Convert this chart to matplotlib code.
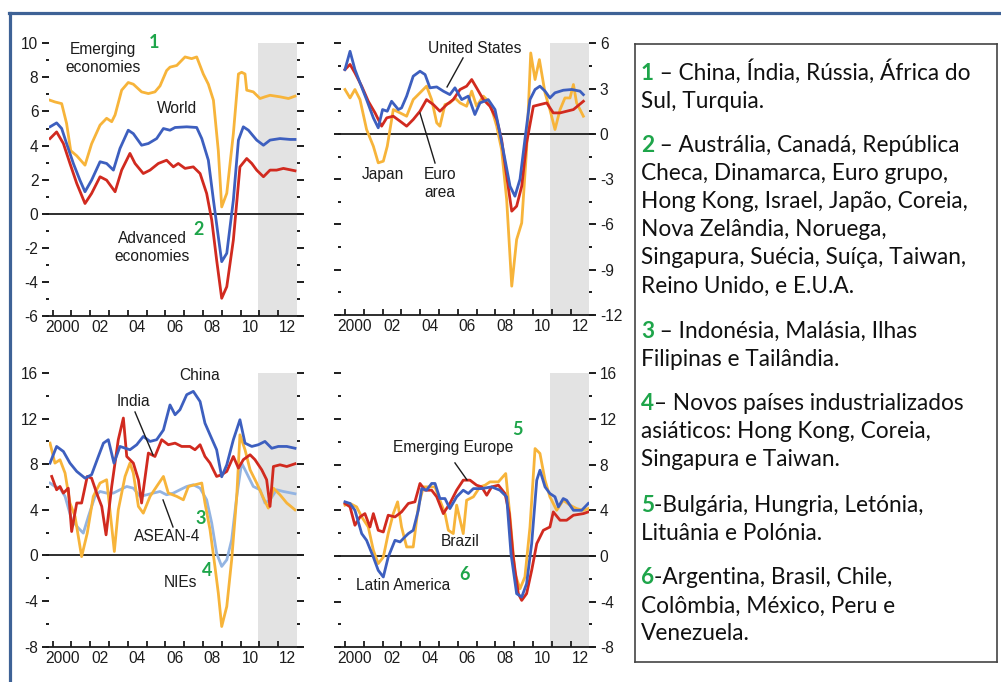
import matplotlib
matplotlib.use("Agg")
import matplotlib.pyplot as plt
from matplotlib.ticker import FixedLocator, FixedFormatter, NullFormatter
from matplotlib.transforms import Affine2D
from matplotlib.lines import Line2D
import numpy as np

plt.rcParams['axes.unicode_minus'] = False

# ---------------- data: real GDP growth, percent change from a year earlier ----------------
# Panel 1: global aggregates
emerging_t = [1999.86, 2000.12, 2000.48, 2000.74, 2000.96, 2001.28, 2001.72, 2002.07, 2002.52, 2002.87,
              2003.14, 2003.32, 2003.67, 2004.02, 2004.29, 2004.73, 2005.09, 2005.44, 2005.71, 2006.06,
              2006.24, 2006.60, 2007.04, 2007.39, 2007.66, 2008.01, 2008.28, 2008.55, 2008.81, 2008.99,
              2009.26, 2009.61, 2009.88, 2010.05, 2010.23, 2010.32, 2010.67, 2011.03, 2011.29, 2011.56,
              2012.09, 2012.54, 2012.89]
emerging_v = [6.66, 6.56, 6.46, 5.3, 3.7, 3.4, 2.85, 4.1, 5.2, 5.6,
              5.4, 5.8, 7.25, 7.7, 7.6, 7.15, 7.05, 7.15, 7.5, 8.4,
              8.6, 8.7, 9.2, 9.1, 9.2, 8.2, 7.6, 6.66, 3.7, 0.4,
              1.2, 4.7, 8.2, 8.3, 8.2, 7.25, 7.15, 6.76, 6.86, 6.95,
              6.86, 6.76, 6.9]

world_t = [1999.86, 2000.21, 2000.48, 2000.74, 2001.10, 2001.45, 2001.72, 2002.07, 2002.52, 2002.87,
           2003.23, 2003.58, 2004.02, 2004.29, 2004.73, 2005.09, 2005.53, 2005.89, 2006.24, 2006.51,
           2007.13, 2007.66, 2007.93, 2008.28, 2008.55, 2008.81, 2008.99, 2009.26, 2009.61, 2009.88,
           2010.14, 2010.41, 2010.85, 2011.21, 2011.56, 2012.09, 2012.62, 2012.89]
world_v = [5.1, 5.33, 5.0, 4.12, 2.95, 1.97, 1.29, 1.97, 3.05, 2.95,
           2.56, 3.83, 4.9, 4.7, 4.02, 4.12, 4.41, 5.0, 4.9, 5.06,
           5.1, 5.06, 4.41, 3.14, 0.8, -1.35, -2.81, -2.32, 0.8, 4.32,
           5.1, 4.9, 4.32, 4.02, 4.32, 4.41, 4.36, 4.36]

advanced_t = [1999.86, 2000.21, 2000.57, 2000.92, 2001.28, 2001.72, 2002.07, 2002.52, 2002.87, 2003.32,
              2003.67, 2004.11, 2004.38, 2004.82, 2005.18, 2005.62, 2006.06, 2006.42, 2006.68, 2007.04,
              2007.48, 2007.84, 2008.19, 2008.46, 2008.72, 2008.99, 2009.26, 2009.61, 2009.96, 2010.32,
              2010.59, 2010.85, 2011.21, 2011.56, 2011.91, 2012.27, 2012.89]
advanced_v = [4.41, 4.8, 4.12, 2.95, 1.78, 0.6, 1.19, 2.17, 1.97, 1.29,
              2.56, 3.54, 2.95, 2.36, 2.56, 2.95, 3.14, 2.75, 2.95, 2.66,
              2.75, 2.36, 1.19, -0.37, -2.71, -4.96, -4.28, -1.54, 2.75, 3.24,
              2.95, 2.56, 2.17, 2.56, 2.56, 2.66, 2.52]

# Panel 2: major advanced economies
us_t = [2000.00, 2000.27, 2000.53, 2000.80, 2001.15, 2001.51, 2001.77, 2002.00, 2002.25, 2002.48,
        2002.84, 2003.01, 2003.28, 2003.63, 2003.99, 2004.26, 2004.52, 2004.88, 2005.23, 2005.58,
        2005.85, 2006.21, 2006.56, 2006.91, 2007.18, 2007.62, 2007.98, 2008.24, 2008.51, 2008.78,
        2009.04, 2009.31, 2009.57, 2009.84, 2010.11, 2010.37, 2010.64, 2010.90, 2011.17, 2011.61,
        2012.06, 2012.50, 2012.68]
us_v = [4.26, 5.47, 4.26, 3.38, 2.27, 1.06, 0.4, 1.61, 1.5, 2.16,
        1.61, 1.72, 2.5, 3.82, 4.15, 3.93, 3.05, 3.11, 2.83, 2.6,
        3.05, 2.27, 2.5, 1.28, 2.05, 2.27, 1.61, 0.07, -1.7, -3.47,
        -4.13, -3.0, -0.38, 2.27, 2.94, 3.16, 2.83, 2.38, 2.72, 2.89,
        2.94, 2.83, 2.6]

euro_t = [2000.00, 2000.27, 2000.53, 2000.89, 2001.24, 2001.60, 2001.95, 2002.22, 2002.57, 2002.93,
          2003.28, 2003.63, 2003.99, 2004.34, 2004.70, 2005.05, 2005.41, 2005.76, 2006.12, 2006.47,
          2006.74, 2007.00, 2007.36, 2007.71, 2008.07, 2008.33, 2008.60, 2008.87, 2009.13, 2009.40,
          2009.66, 2010.02, 2010.37, 2010.73, 2011.08, 2011.44, 2011.79, 2012.15, 2012.68]
euro_v = [4.26, 4.6, 4.04, 3.16, 2.16, 1.39, 0.51, 1.06, 1.17, 0.84,
          0.51, 0.95, 1.5, 2.27, 1.94, 1.5, 1.94, 2.27, 2.94, 3.16,
          3.6, 3.05, 2.27, 1.83, 0.95, -0.38, -2.8, -5.12, -4.79, -3.47,
          -0.6, 1.83, 1.94, 2.05, 1.39, 1.39, 1.5, 1.61, 2.16]

japan_t = [2000.00, 2000.27, 2000.53, 2000.80, 2001.15, 2001.51, 2001.77, 2002.04, 2002.25, 2002.57,
           2002.93, 2003.28, 2003.63, 2003.99, 2004.34, 2004.61, 2004.88, 2005.05, 2005.32, 2005.58,
           2005.85, 2006.12, 2006.47, 2006.74, 2007.00, 2007.36, 2007.71, 2008.07, 2008.33, 2008.60,
           2008.87, 2009.13, 2009.40, 2009.66, 2009.88, 2010.11, 2010.34, 2010.64, 2010.90, 2011.17,
           2011.44, 2011.70, 2011.97, 2012.15, 2012.32, 2012.68]
japan_v = [2.94, 2.38, 2.94, 2.27, 0.29, -0.82, -1.92, -1.81, -0.82, 1.61,
           1.39, 1.17, 2.27, 2.72, 3.16, 2.27, 0.73, 0.51, 1.94, 2.05,
           2.38, 2.05, 1.83, 2.83, 1.83, 2.5, 2.05, 0.51, -1.04, -4.35,
           -10.09, -7.0, -5.9, -1.04, 5.36, 3.6, 4.92, 2.72, 1.61, 0.29,
           1.61, 2.38, 2.38, 3.27, 2.05, 1.17]

# Panel 3: emerging Asia
china_t = [1999.86, 2000.21, 2000.57, 2000.92, 2001.28, 2001.72, 2002.07, 2002.43, 2002.70, 2002.96,
           2003.26, 2003.58, 2004.11, 2004.47, 2004.82, 2005.18, 2005.53, 2005.89, 2006.24, 2006.51,
           2006.77, 2007.13, 2007.48, 2007.84, 2008.10, 2008.37, 2008.72, 2008.99, 2009.26, 2009.61,
           2009.96, 2010.23, 2010.59, 2010.94, 2011.29, 2011.65, 2012.00, 2012.45, 2012.89]
china_v = [8.1, 9.56, 9.12, 8.1, 7.37, 6.78, 7.08, 8.68, 9.85, 10.15,
           8.1, 9.56, 9.27, 9.71, 10.44, 10.0, 10.15, 11.0, 13.2, 12.34,
           12.78, 14.1, 14.39, 13.5, 11.6, 10.58, 9.27, 6.9, 7.95, 10.15,
           11.9, 9.85, 9.56, 9.71, 10.0, 9.4, 9.56, 9.56, 9.4]

india_t = [1999.95, 2000.21, 2000.39, 2000.57, 2000.83, 2001.01, 2001.28, 2001.54, 2001.84, 2002.07,
           2002.34, 2002.61, 2002.84, 2003.14, 2003.49, 2003.76, 2003.94, 2004.29, 2004.56, 2004.73,
           2005.09, 2005.44, 2005.80, 2006.15, 2006.51, 2006.86, 2007.30, 2007.57, 2007.84, 2008.10,
           2008.37, 2008.72, 2008.99, 2009.26, 2009.61, 2009.88, 2010.14, 2010.50, 2010.76, 2011.12,
           2011.38, 2011.56, 2011.74, 2012.09, 2012.45, 2012.89]
india_v = [6.93, 5.76, 6.05, 5.47, 5.9, 2.1, 4.6, 4.6, 6.93, 6.78,
           5.47, 4.3, 1.81, 6.05, 10.15, 12.05, 8.68, 8.1, 6.64, 4.6,
           8.98, 8.68, 10.15, 9.71, 9.85, 9.56, 9.56, 9.27, 9.71, 8.68,
           8.1, 6.93, 7.08, 7.37, 8.68, 7.66, 8.4, 8.83, 8.4, 7.51,
           6.64, 4.3, 7.8, 7.95, 7.8, 8.04]

nies_t = [1999.86, 2000.12, 2000.39, 2000.66, 2000.92, 2001.19, 2001.54, 2001.84, 2002.16, 2002.52,
          2002.87, 2003.14, 2003.28, 2003.49, 2003.85, 2004.11, 2004.29, 2004.56, 2004.82, 2005.18,
          2005.53, 2005.89, 2006.15, 2006.60, 2006.95, 2007.22, 2007.57, 2007.93, 2008.10, 2008.37,
          2008.63, 2008.81, 2008.99, 2009.26, 2009.52, 2009.79, 2009.96, 2010.23, 2010.50, 2010.85,
          2011.21, 2011.47, 2011.74, 2012.09, 2012.45, 2012.89]
nies_v = [9.85, 8.1, 8.39, 7.22, 4.6, 3.42, -0.1, 1.96, 5.18, 6.35,
          6.64, 2.54, 0.35, 4.0, 6.93, 8.1, 7.22, 4.3, 3.71, 5.18,
          6.05, 6.93, 5.47, 5.18, 4.88, 6.05, 6.2, 6.35, 4.6, 2.25,
          -0.96, -3.3, -6.23, -4.47, -0.38, 5.18, 10.58, 9.27, 7.51, 6.35,
          5.03, 4.15, 5.9, 5.32, 4.6, 4.0]

asean_t = [1999.86, 2000.12, 2000.39, 2000.66, 2001.01, 2001.37, 2001.63, 2001.90, 2002.25, 2002.52,
           2002.87, 2003.23, 2003.58, 2003.94, 2004.29, 2004.65, 2005.00, 2005.35, 2005.71, 2006.06,
           2006.42, 2006.77, 2007.13, 2007.48, 2007.84, 2008.19, 2008.46, 2008.72, 2008.99, 2009.26,
           2009.52, 2009.79, 2010.05, 2010.32, 2010.67, 2011.03, 2011.29, 2011.56, 2011.91, 2012.27,
           2012.89]
asean_v = [6.35, 6.05, 5.9, 5.18, 3.13, 2.4, 1.96, 3.42, 5.18, 5.61,
           5.47, 5.47, 5.76, 6.05, 5.9, 5.18, 5.32, 5.47, 5.61, 5.32,
           5.47, 5.76, 6.05, 6.2, 5.9, 4.88, 2.84, 0.2, -0.96, -0.38,
           1.37, 5.18, 8.1, 7.22, 6.05, 5.76, 4.6, 4.88, 5.76, 5.61,
           5.41]

# Panel 4: Latin America and emerging Europe
eeurope_t = [2000.00, 2000.27, 2000.53, 2000.80, 2001.06, 2001.33, 2001.51, 2001.77, 2002.04, 2002.30,
             2002.66, 2003.01, 2003.37, 2003.72, 2003.99, 2004.26, 2004.61, 2004.88, 2005.23, 2005.58,
             2005.94, 2006.29, 2006.65, 2007.00, 2007.27, 2007.54, 2007.80, 2008.16, 2008.51, 2008.74,
             2008.95, 2009.22, 2009.40, 2009.66, 2009.93, 2010.20, 2010.55, 2010.90, 2011.08, 2011.44,
             2011.79, 2012.15, 2012.68, 2012.94]
eeurope_v = [4.6, 4.3, 2.69, 3.42, 3.71, 2.54, 3.71, 2.25, 2.1, 3.57,
             3.42, 3.86, 4.6, 4.74, 6.35, 5.76, 5.76, 5.18, 3.71, 4.6,
             5.76, 6.64, 6.64, 6.2, 6.05, 5.32, 6.05, 6.2, 5.47, 3.71,
             -0.1, -3.3, -3.89, -3.3, -1.26, 1.08, 2.25, 2.54, 3.86, 3.13,
             3.13, 3.57, 3.71, 3.86]

latam_t = [2000.00, 2000.27, 2000.53, 2000.89, 2001.15, 2001.51, 2001.77, 2002.04, 2002.30, 2002.66,
           2002.93, 2003.19, 2003.37, 2003.63, 2003.90, 2004.08, 2004.34, 2004.61, 2004.79, 2005.05,
           2005.32, 2005.58, 2005.94, 2006.29, 2006.56, 2006.83, 2007.27, 2007.80, 2008.24, 2008.60,
           2008.83, 2009.13, 2009.40, 2009.66, 2009.93, 2010.20, 2010.37, 2010.64, 2010.90, 2011.17,
           2011.35, 2011.61, 2011.79, 2012.15, 2012.59, 2012.94]
latam_v = [4.74, 4.6, 4.0, 1.96, 1.37, -0.1, -1.26, -1.84, -0.1, 1.37,
           1.23, 1.67, 1.96, 2.25, 4.0, 5.9, 5.76, 6.35, 6.35, 5.03,
           5.03, 4.15, 5.18, 5.76, 5.47, 5.9, 5.9, 6.05, 5.76, 5.18,
           0.2, -3.3, -3.6, -2.43, 1.08, 6.64, 7.51, 6.05, 5.47, 5.18,
           4.3, 5.03, 4.88, 4.0, 4.0, 4.6]

brazil_t = [2000.00, 2000.27, 2000.62, 2000.89, 2001.24, 2001.51, 2001.77, 2002.04, 2002.30, 2002.57,
            2002.80, 2003.01, 2003.28, 2003.63, 2003.90, 2004.17, 2004.43, 2004.79, 2005.05, 2005.32,
            2005.50, 2005.76, 2005.94, 2006.29, 2006.47, 2006.83, 2007.18, 2007.45, 2007.71, 2008.16,
            2008.55, 2008.78, 2009.04, 2009.31, 2009.57, 2009.84, 2010.11, 2010.37, 2010.64, 2010.90,
            2011.26, 2011.61, 2011.97, 2012.32, 2012.68, 2012.94]
brazil_v = [4.45, 4.6, 4.3, 3.42, 2.54, 0.5, -0.67, -0.1, 1.96, 3.71,
            4.74, 2.54, 0.79, 0.79, 4.3, 6.05, 6.05, 6.05, 4.88, 3.71,
            2.25, 1.96, 4.45, 1.96, 4.88, 5.18, 6.05, 6.2, 6.49, 6.49,
            7.22, 3.42, -1.55, -2.87, -1.84, 2.54, 9.41, 8.98, 6.64, 5.18,
            4.0, 4.88, 4.45, 4.15, 4.0, 4.15]

year_labels = ['2000', '02', '04', '06', '08', '10', '12']
projection_start = 2010.92

note_paragraphs = [
    ('1', ' – China, Índia, Rússia, África do', ['Sul, Turquia.']),
    ('2', ' – Austrália, Canadá, República', ['Checa, Dinamarca, Euro grupo,',
                                           'Hong Kong, Israel, Japão, Coreia,',
                                           'Nova Zelândia, Noruega,',
                                           'Singapura, Suécia, Suíça, Taiwan,',
                                           'Reino Unido, e E.U.A.']),
    ('3', ' – Indonésia, Malásia, Ilhas', ['Filipinas e Tailândia.']),
    ('4', '– Novos países industrializados', ['asiáticos: Hong Kong, Coreia,',
                                             'Singapura e Taiwan.']),
    ('5', '-Bulgária, Hungria, Letónia,', ['Lituânia e Polónia.']),
    ('6', '-Argentina, Brasil, Chile,', ['Colômbia, México, Peru e', 'Venezuela.']),
]

# ---------------- styling ----------------
GOLD = '#f7b43a'
BLUE = '#3d5fbf'
RED = '#d12a1f'
LIGHT_BLUE = '#93b4e2'
GREEN = '#1ea54a'
INK = '#1c1c1c'
SHADE = '#e3e3e3'
FRAME_BLUE = '#3e6296'
CHART_FONT = ['Liberation Sans', 'DejaVu Sans']
NOTE_FONT = ['Lato', 'DejaVu Sans']
LABEL_SIZE = 11.2
LINE_W = 2.0

W, H = 1001, 682
fig = plt.figure(figsize=(W / 100, H / 100), dpi=100)
fig.patch.set_facecolor('white')
plt.rcParams['font.family'] = CHART_FONT

# transform for top-left based pixel coordinates
PX = Affine2D().scale(1 / W, -1 / H).translate(0, 1) + fig.transFigure


def px_axes(x0, x1, y_top, y_bot):
    return fig.add_axes([x0 / W, 1 - y_bot / H, (x1 - x0) / W, (y_bot - y_top) / H])


XMIN, XMAX = 1999.8, 2013.0


def setup_panel(ax, ylo, yhi, step, side):
    ax.set_xlim(XMIN, XMAX)
    ax.set_ylim(ylo, yhi)
    ax.patch.set_alpha(0)
    for s in ax.spines.values():
        s.set_visible(False)
    ax.axvspan(projection_start, XMAX, color=SHADE, lw=0, zorder=0)
    # baseline and zero line run slightly past the plotting frame
    ax.plot([XMIN - 0.17, XMAX + 0.27], [ylo, ylo], color=INK, lw=1.3, clip_on=False, zorder=3,
            solid_capstyle='butt')
    ax.plot([XMIN - 0.17, XMAX + 0.27], [0, 0], color=INK, lw=1.3, clip_on=False, zorder=1,
            solid_capstyle='butt')
    majors = np.arange(ylo, yhi + step / 10, step)
    minors = majors[:-1] + step / 2
    ax.yaxis.set_major_locator(FixedLocator(majors))
    ax.yaxis.set_minor_locator(FixedLocator(minors))
    ax.set_yticklabels([f'{int(v)}' for v in majors])
    ax.tick_params(axis='y', which='major', direction='out', length=5, width=1.4, color=INK,
                   left=True, right=True, labelleft=(side == 'left'), labelright=(side == 'right'),
                   labelsize=LABEL_SIZE, labelcolor=INK, pad=2.5)
    ax.tick_params(axis='y', which='minor', direction='out', length=2, width=1.4, color=INK,
                   left=True, right=True)
    ax.xaxis.set_major_locator(FixedLocator(np.arange(2000, 2013)))
    ax.xaxis.set_major_formatter(NullFormatter())
    ax.xaxis.set_minor_locator(FixedLocator(np.arange(2000.5, 2013, 2)))
    ax.xaxis.set_minor_formatter(FixedFormatter(year_labels))
    ax.tick_params(axis='x', which='major', direction='in', length=4, width=1.3, color=INK)
    ax.tick_params(axis='x', which='minor', length=0, labelsize=LABEL_SIZE, labelcolor=INK, pad=3)


def label(ax, x, y, s, **kw):
    ax.text(x, y, s, ha='center', va='center', fontsize=LABEL_SIZE, color=INK, zorder=5,
            linespacing=1.25, **kw)


def marker(ax, x, y, s):
    ax.text(x, y, s, ha='center', va='center', fontsize=13, color=GREEN, weight='bold',
            family=NOTE_FONT, zorder=5)


def leader(ax, x0, y0, x1, y1):
    ax.plot([x0, x1], [y0, y1], color=INK, lw=1.0, zorder=5)


# ---------------- panel 1 ----------------
ax1 = px_axes(48.9, 297.1, 43.3, 316.0)
setup_panel(ax1, -6, 10, 2, 'left')
ax1.plot(emerging_t, emerging_v, color=GOLD, lw=LINE_W, zorder=2)
ax1.plot(world_t, world_v, color=BLUE, lw=LINE_W, zorder=2)
ax1.plot(advanced_t, advanced_v, color=RED, lw=LINE_W, zorder=2)
label(ax1, 2002.68, 9.09, 'Emerging\neconomies')
label(ax1, 2006.61, 6.19, 'World')
label(ax1, 2005.28, -1.98, 'Advanced\neconomies')
marker(ax1, 2005.39, 10.06, '1')
marker(ax1, 2007.78, -0.95, '2')

# ---------------- panel 2 ----------------
ax2 = px_axes(341.2, 589.4, 43.3, 315.0)
setup_panel(ax2, -12, 6, 3, 'right')
ax2.plot(japan_t, japan_v, color=GOLD, lw=LINE_W, zorder=2)
ax2.plot(euro_t, euro_v, color=RED, lw=LINE_W, zorder=2)
ax2.plot(us_t, us_v, color=BLUE, lw=LINE_W, zorder=2)
label(ax2, 2006.91, 5.63, 'United States')
leader(ax2, 2006.28, 5.03, 2005.43, 3.11)
label(ax2, 2002.02, -2.72, 'Japan')
label(ax2, 2005.05, -3.3, 'Euro\narea')
leader(ax2, 2004.79, -1.93, 2003.99, 1.38)

# ---------------- panel 3 ----------------
ax3 = px_axes(48.9, 297.1, 373.0, 646.7)
setup_panel(ax3, -8, 16, 4, 'left')
ax3.plot(asean_t, asean_v, color=LIGHT_BLUE, lw=LINE_W, zorder=2)
ax3.plot(nies_t, nies_v, color=GOLD, lw=LINE_W, zorder=2)
ax3.plot(india_t, india_v, color=RED, lw=LINE_W, zorder=2)
ax3.plot(china_t, china_v, color=BLUE, lw=LINE_W, zorder=2)
label(ax3, 2007.79, 15.74, 'China')
label(ax3, 2004.27, 13.46, 'India')
leader(ax3, 2004.38, 12.58, 2005.34, 8.81)
label(ax3, 2006.08, 1.62, 'ASEAN-4')
leader(ax3, 2006.40, 2.50, 2005.87, 4.87)
label(ax3, 2006.77, -2.41, 'NIEs')
marker(ax3, 2007.89, 3.2, '3')
marker(ax3, 2008.21, -1.36, '4')

# ---------------- panel 4 ----------------
ax4 = px_axes(341.2, 589.4, 373.3, 647.3)
setup_panel(ax4, -8, 16, 4, 'right')
ax4.plot(brazil_t, brazil_v, color=GOLD, lw=LINE_W, zorder=2)
ax4.plot(eeurope_t, eeurope_v, color=RED, lw=LINE_W, zorder=2)
ax4.plot(latam_t, latam_v, color=BLUE, lw=LINE_W, zorder=2)
label(ax4, 2005.74, 9.46, 'Emerging Europe')
leader(ax4, 2005.85, 8.15, 2006.49, 6.66)
label(ax4, 2006.12, 1.23, 'Brazil')
label(ax4, 2003.09, -2.63, 'Latin America')
marker(ax4, 2009.15, 11.12, '5')
marker(ax4, 2006.38, -1.66, '6')

# ---------------- notes box ----------------
box = px_axes(635, 997, 44, 662)
box.set_xticks([])
box.set_yticks([])
for s in box.spines.values():
    s.set_color('#444444')
    s.set_linewidth(1.2)

renderer = fig.canvas.get_renderer()
probe = fig.text(0, 0, note_paragraphs[0][0] + note_paragraphs[0][1], fontsize=16, family=NOTE_FONT)
note_size = 16 * 332 / probe.get_window_extent(renderer).width
probe.remove()

x_text = 641
y_line = 73
line_step = 28
para_step = 45
for num, first, rest in note_paragraphs:
    t_num = fig.text(x_text, y_line, num, transform=PX, fontsize=note_size, family=NOTE_FONT,
                     color=GREEN, weight='bold', ha='left', va='center')
    box.annotate(first, xy=(1, 0), xycoords=t_num, ha='left', va='bottom', fontsize=note_size,
                 family=NOTE_FONT, color='#111111', annotation_clip=False)
    for line in rest:
        y_line += line_step
        fig.text(x_text, y_line, line, transform=PX, fontsize=note_size, family=NOTE_FONT,
                 color='#111111', ha='left', va='center')
    y_line += para_step

# ---------------- outer frame ----------------
fig.add_artist(Line2D([9 / W, 1], [1 - 13 / H, 1 - 13 / H], transform=fig.transFigure,
                      color=FRAME_BLUE, lw=2.3))
fig.add_artist(Line2D([10 / W, 10 / W], [0, 1 - 13 / H], transform=fig.transFigure,
                      color=FRAME_BLUE, lw=2.3))

fig.savefig('out.png', dpi=100, facecolor='white')
